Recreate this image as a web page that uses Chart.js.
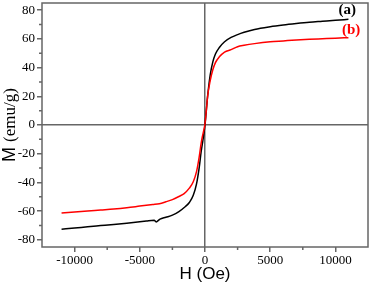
<!DOCTYPE html>
<html>
<head>
<meta charset="utf-8">
<script src="https://cdn.jsdelivr.net/npm/chart.js@4.4.0/dist/chart.umd.min.js"></script>
<style>
  html, body { margin: 0; padding: 0; background: #fff; }
  canvas { display: block; }
</style>
</head>
<body>
<canvas id="loop" width="370" height="285"></canvas>
<script>
// sample (a), black curve
const fieldA = [-11000, -10000, -9000, -8000, -7000, -6000, -5000, -4500, -3900, -3750, -3450, -3000, -2500, -2000, -1500, -1200, -900, -650, -450, -300, -200, -100, 0, 100, 200, 400, 600, 800, 1100, 1500, 2000, 2500, 3000, 3800, 5000, 6000, 7000, 8000, 9000, 10000, 11000];
const momentA = [-72.6, -71.8, -70.9, -70.1, -69.3, -68.4, -67.4, -66.9, -66.4, -67.5, -65.6, -64.3, -62.8, -60.3, -56.8, -54, -49, -41, -30, -19, -13, -7, 0, 10, 20, 35, 44, 49.5, 54, 58, 61, 63, 64.6, 66.6, 68.5, 69.7, 70.7, 71.6, 72.3, 73, 73.6];
// sample (b), red curve
const fieldB = [-11000, -10000, -9000, -8000, -7000, -6000, -5000, -4000, -3500, -3000, -2500, -2000, -1600, -1200, -900, -650, -450, -300, -200, -100, 0, 100, 200, 400, 600, 800, 1100, 1500, 2000, 2500, 3000, 3800, 5000, 6000, 7000, 8000, 9000, 10000, 11000];
const momentB = [-61.3, -60.6, -59.9, -59.2, -58.5, -57.6, -56.5, -55.4, -54.8, -53.5, -52, -49.8, -47.8, -44, -39.5, -32.5, -22.5, -13, -8, -4, 1, 10, 20, 31, 38.5, 43.5, 47.5, 50.8, 52.5, 54.5, 55.5, 56.7, 58, 58.6, 59.2, 59.7, 60.1, 60.5, 60.8];

const xTicks = [-10000, -5000, 0, 5000, 10000];
const yTicks = [-80, -60, -40, -20, 0, 20, 40, 60, 80];
const xMinor = [-7500, -2500, 2500, 7500];
const yMinor = [-70, -50, -30, -10, 10, 30, 50, 70];

// where the (a)/(b) tags sit, in data units
const tagA = [10900, 80];
const tagB = [11200, 66];

const grey = '#666666';

function zeroOnly(c) {
  return c.tick && c.tick.value === 0 ? grey : 'rgba(0,0,0,0)';
}

const extras = {
  id: 'extras',
  afterDraw(chart) {
    const ctx = chart.ctx;
    const a = chart.chartArea;
    const x = chart.scales.x, y = chart.scales.y;
    ctx.save();
    ctx.strokeStyle = grey;
    ctx.lineWidth = 1.5;
    ctx.strokeRect(a.left, a.top, a.right - a.left, a.bottom - a.top);

    // minor ticks
    ctx.beginPath();
    xMinor.forEach(function (v) {
      var px = x.getPixelForValue(v);
      ctx.moveTo(px, a.bottom);
      ctx.lineTo(px, a.bottom + 3);
    });
    yMinor.forEach(function (v) {
      var py = y.getPixelForValue(v);
      ctx.moveTo(a.left, py);
      ctx.lineTo(a.left - 3, py);
    });
    ctx.stroke();

    // y title, "M" sans + "(emu/g)" serif
    ctx.fillStyle = '#000';
    ctx.translate(15, (a.top + a.bottom) / 2);
    ctx.rotate(-Math.PI / 2);
    ctx.textBaseline = 'alphabetic';
    ctx.textAlign = 'left';
    ctx.font = '18px "Liberation Sans"';
    var w1 = ctx.measureText('M ').width;
    ctx.font = '17px "Liberation Serif"';
    var w2 = ctx.measureText('(emu/g)').width;
    var start = -(w1 + w2) / 2;
    ctx.font = '18px "Liberation Sans"';
    ctx.fillText('M ', start, 0);
    ctx.font = '17px "Liberation Serif"';
    ctx.fillText('(emu/g)', start + w1, 0);
    ctx.setTransform(1, 0, 0, 1, 0, 0);

    // curve tags
    ctx.font = 'bold 15px "Liberation Serif"';
    ctx.textAlign = 'center';
    ctx.textBaseline = 'middle';
    ctx.fillStyle = '#000';
    ctx.fillText('(a)', x.getPixelForValue(tagA[0]), y.getPixelForValue(tagA[1]));
    ctx.fillStyle = '#ff0000';
    ctx.fillText('(b)', x.getPixelForValue(tagB[0]), y.getPixelForValue(tagB[1]));
    ctx.restore();
  }
};

new Chart(document.getElementById('loop'), {
  type: 'line',
  data: {
    datasets: [
      {
        label: '(b)',
        data: fieldB.map(function (h, i) { return { x: h, y: momentB[i] }; }),
        borderColor: '#ff0000',
        borderWidth: 1.5,
        pointRadius: 0,
        cubicInterpolationMode: 'monotone',
        order: 0
      },
      {
        label: '(a)',
        data: fieldA.map(function (h, i) { return { x: h, y: momentA[i] }; }),
        borderColor: '#000000',
        borderWidth: 1.5,
        pointRadius: 0,
        cubicInterpolationMode: 'monotone',
        order: 1
      }
    ]
  },
  options: {
    responsive: false,
    animation: false,
    layout: { padding: { top: 3, right: 2, left: 0, bottom: 0 } },
    plugins: {
      legend: { display: false },
      tooltip: { enabled: false }
    },
    scales: {
      x: {
        type: 'linear',
        min: -12500,
        max: 12500,
        afterBuildTicks: function (s) { s.ticks = xTicks.map(function (v) { return { value: v }; }); },
        afterFit: function (s) { s.height = 38; s.paddingLeft = 0; s.paddingRight = 0; },
        border: { display: false },
        grid: { color: zeroOnly, tickColor: grey, lineWidth: 1.5, tickLength: 5 },
        ticks: {
          maxRotation: 0,
          padding: 1,
          color: '#000',
          font: { family: 'Liberation Serif', size: 13 },
          callback: function (v) { return String(v); }
        },
        title: {
          display: true,
          text: 'H (Oe)',
          color: '#000',
          font: { family: 'Liberation Sans', size: 17 },
          padding: { top: 0, bottom: 0 }
        }
      },
      y: {
        type: 'linear',
        min: -85,
        max: 85,
        afterBuildTicks: function (s) { s.ticks = yTicks.map(function (v) { return { value: v }; }); },
        afterFit: function (s) { s.width = 42; s.paddingTop = 0; s.paddingBottom = 0; },
        border: { display: false },
        grid: { color: zeroOnly, tickColor: grey, lineWidth: 1.5, tickLength: 5 },
        ticks: {
          padding: 2,
          color: '#000',
          font: { family: 'Liberation Serif', size: 13 },
          callback: function (v) { return String(v); }
        }
      }
    }
  },
  plugins: [extras]
});
</script>
</body>
</html>
